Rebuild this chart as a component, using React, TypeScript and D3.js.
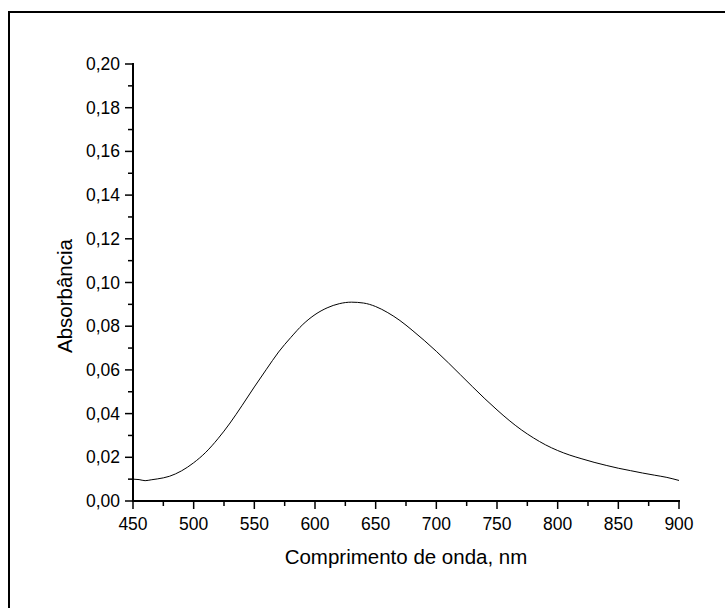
import { useEffect, useRef } from "react";
import * as d3 from "d3";

const wavelength = [
  450, 455, 460, 465, 470, 480, 490, 500, 510, 520, 530, 540, 550, 560, 570,
  580, 590, 600, 610, 620, 630, 640, 650, 660, 670, 680, 690, 700, 710, 720,
  730, 740, 750, 760, 770, 780, 790, 800, 810, 820, 830, 840, 850, 860, 870,
  880, 890, 900,
];
const absorbance = [
  0.01, 0.0098, 0.0093, 0.0097, 0.0101, 0.0113, 0.0138, 0.0175, 0.0223, 0.0285,
  0.0357, 0.0438, 0.0522, 0.0603, 0.0682, 0.0748, 0.0808, 0.0853, 0.0884, 0.0903,
  0.091, 0.0906, 0.089, 0.0862, 0.0826, 0.0782, 0.0735, 0.0685, 0.0632, 0.0577,
  0.0522, 0.0468, 0.0417, 0.0369, 0.0326, 0.0289, 0.0257, 0.0231, 0.021, 0.0193,
  0.0177, 0.0163, 0.015, 0.0139, 0.0128, 0.0118, 0.0108, 0.0094,
];
const xTicks = [450, 500, 550, 600, 650, 700, 750, 800, 850, 900];
const yTicks = [0, 0.02, 0.04, 0.06, 0.08, 0.1, 0.12, 0.14, 0.16, 0.18, 0.2];

const App = () => {
  const ref = useRef<SVGSVGElement>(null);

  const width = 725;
  const height = 608;
  const left = 133;
  const right = 679;
  const top = 64;
  const bottom = 501;

  useEffect(() => {
    const svg = d3.select(ref.current);
    svg.selectAll("*").remove();

    const x = d3.scaleLinear().domain([450, 900]).range([left, right]);
    const y = d3.scaleLinear().domain([0, 0.2]).range([bottom, top]);
    const fmt = (d: number) => d.toFixed(2).replace(".", ",");

    // outer frame (only top/left visible)
    svg
      .append("rect")
      .attr("x", 9)
      .attr("y", 12)
      .attr("width", 800)
      .attr("height", 700)
      .attr("fill", "none")
      .attr("stroke", "#000")
      .attr("stroke-width", 2);

    const font = "'Liberation Sans', Arial, sans-serif";

    // x axis
    const gx = svg
      .append("g")
      .attr("transform", `translate(0,${bottom})`)
      .attr("font-family", font);
    gx.append("line")
      .attr("x1", left - 1)
      .attr("x2", right + 1)
      .attr("stroke", "#000")
      .attr("stroke-width", 2);
    const xMinor = d3.range(475, 900, 50);
    gx.selectAll(".minor")
      .data(xMinor)
      .join("line")
      .attr("x1", (d) => x(d))
      .attr("x2", (d) => x(d))
      .attr("y1", 0)
      .attr("y2", 5)
      .attr("stroke", "#000")
      .attr("stroke-width", 1.5);
    gx.selectAll(".major")
      .data(xTicks)
      .join("line")
      .attr("x1", (d) => x(d))
      .attr("x2", (d) => x(d))
      .attr("y1", 0)
      .attr("y2", 8)
      .attr("stroke", "#000")
      .attr("stroke-width", 1.5);
    gx.selectAll("text")
      .data(xTicks)
      .join("text")
      .attr("x", (d) => x(d))
      .attr("y", 29)
      .attr("text-anchor", "middle")
      .attr("font-size", 17.5)
      .text((d) => d);

    // y axis
    const gy = svg
      .append("g")
      .attr("transform", `translate(${left},0)`)
      .attr("font-family", font);
    gy.append("line")
      .attr("y1", top - 1)
      .attr("y2", bottom + 1)
      .attr("stroke", "#000")
      .attr("stroke-width", 2);
    const yMinor = d3.range(0.01, 0.2, 0.02);
    gy.selectAll(".minor")
      .data(yMinor)
      .join("line")
      .attr("y1", (d) => y(d))
      .attr("y2", (d) => y(d))
      .attr("x1", 0)
      .attr("x2", -5)
      .attr("stroke", "#000")
      .attr("stroke-width", 1.5);
    gy.selectAll(".major")
      .data(yTicks)
      .join("line")
      .attr("y1", (d) => y(d))
      .attr("y2", (d) => y(d))
      .attr("x1", 0)
      .attr("x2", -8)
      .attr("stroke", "#000")
      .attr("stroke-width", 1.5);
    gy.selectAll("text")
      .data(yTicks)
      .join("text")
      .attr("x", -13)
      .attr("y", (d) => y(d) + 6)
      .attr("text-anchor", "end")
      .attr("font-size", 17.5)
      .text((d) => fmt(d));

    // axis titles
    svg
      .append("text")
      .attr("x", 406)
      .attr("y", 564)
      .attr("text-anchor", "middle")
      .attr("font-family", font)
      .attr("font-size", 20.5)
      .text("Comprimento de onda, nm");
    svg
      .append("text")
      .attr("transform", `translate(72,296) rotate(-90)`)
      .attr("text-anchor", "middle")
      .attr("font-family", font)
      .attr("font-size", 20.5)
      .text("Absorbância");

    // curve
    const line = d3
      .line<number>()
      .x((d, i) => x(wavelength[i]))
      .y((d) => y(d))
      .curve(d3.curveMonotoneX);
    svg
      .append("path")
      .datum(absorbance)
      .attr("fill", "none")
      .attr("stroke", "#000")
      .attr("stroke-width", 1)
      .attr("d", line);
  }, []);

  return (
    <svg
      ref={ref}
      width={width}
      height={height}
      style={{ position: "absolute", left: 0, top: 0, background: "#fff" }}
    />
  );
};

export default App;
